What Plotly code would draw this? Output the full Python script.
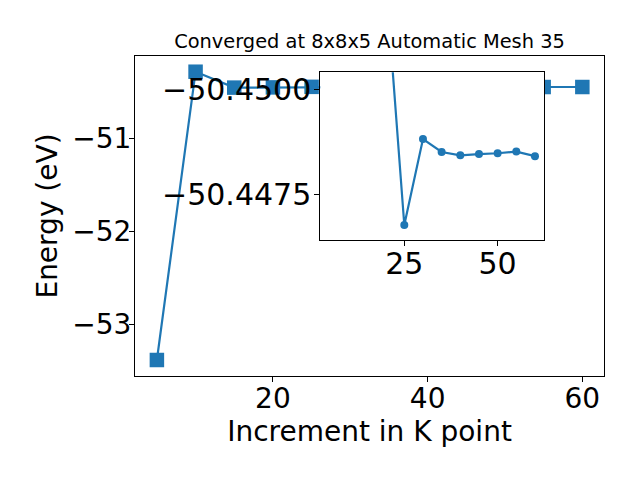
import plotly.graph_objects as go

# Data
k_points = [5, 10, 15, 20, 25, 30, 35, 40, 45, 50, 55, 60]
energy = [-53.384, -50.284, -50.455, -50.4527, -50.44676, -50.44882,
          -50.44851, -50.44843, -50.44846, -50.44848, -50.44852, -50.44841]
# the inset shows the converged tail of the same series
inset_start = 2
inset_k = k_points[inset_start:]
inset_energy = energy[inset_start:]

main_xticks = [20, 40, 60]
main_yticks = [-51, -52, -53]
inset_xticks = [25, 50]
inset_yticks = [-50.4500, -50.4475]

title_text = "Converged at 8x8x5 Automatic Mesh 35"
xlabel = "Increment in K point"
ylabel = "Energy (eV)"

C = "#1f77b4"
FONT = "DejaVu Sans"
OFF = 8            # page body margin
W, H = 640 - OFF, 480 - OFF


def px(x):
    return (x - OFF) / W


def py(y):
    return 1 - (y - OFF) / H


fig = go.Figure()
fig.add_trace(go.Scatter(
    x=k_points, y=energy, mode="lines+markers",
    line=dict(color=C, width=2.2),
    marker=dict(symbol="square", size=14.5, color=C),
    xaxis="x", yaxis="y", showlegend=False))
fig.add_trace(go.Scatter(
    x=inset_k, y=inset_energy, mode="lines+markers",
    line=dict(color=C, width=2.2),
    marker=dict(symbol="circle", size=8, color=C),
    xaxis="x2", yaxis="y2", showlegend=False))


def axis_style(fontsize, standoff=-8):
    return dict(
        showline=True, mirror=True, linecolor="black", linewidth=1.1,
        ticks="outside", ticklen=5, tickwidth=1.1, tickcolor="black",
        showgrid=False, zeroline=False, automargin=False,
        tickfont=dict(family=FONT, size=fontsize, color="black"),
        ticklabelstandoff=standoff,
    )


fig.update_layout(
    template="none",
    width=W, height=H,
    margin=dict(l=0, r=0, t=0, b=0),
    paper_bgcolor="white", plot_bgcolor="white",
    font=dict(family=FONT, color="black"),
    title=dict(text=title_text, font=dict(family=FONT, size=19.4, color="black"),
               x=px(369.5), xanchor="center", y=py(47.5), yanchor="bottom",
               xref="paper", yref="paper"),
    xaxis=dict(domain=[px(135), px(604)], range=[2.17, 62.8], anchor="y",
               tickvals=main_xticks,
               title=dict(text=xlabel, font=dict(family=FONT, size=28), standoff=1),
               **axis_style(28)),
    yaxis=dict(domain=[py(376), py(56)], range=[-53.556, -50.115], anchor="x",
               tickvals=main_yticks,
               title=dict(text=ylabel, font=dict(family=FONT, size=28), standoff=6),
               **axis_style(28)),
    xaxis2=dict(domain=[px(320.3), px(544.3)], range=[2.5, 62.5], anchor="y2",
                tickvals=inset_xticks, **axis_style(30)),
    yaxis2=dict(domain=[py(240), py(72.3)], range=[-50.4464, -50.45042],
                anchor="x2", tickvals=inset_yticks, tickformat=".4f",
                **axis_style(30, standoff=-3)),
)

fig.write_html("out.html")
